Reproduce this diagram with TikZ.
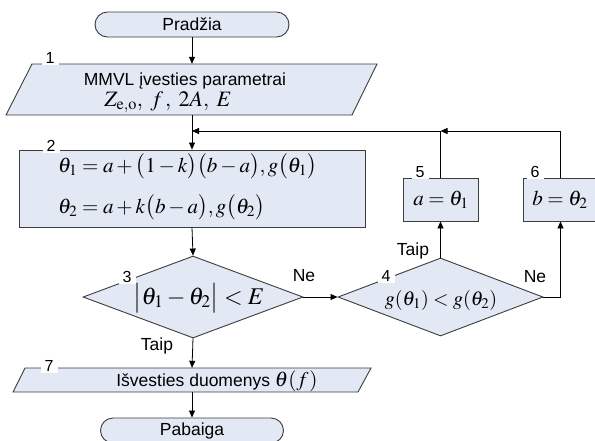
\documentclass[tikz,border=0pt]{standalone}
\usepackage{amsmath}
\usepackage{mathptmx}
\usepackage[no-math]{fontspec}
\setmainfont{Liberation Sans}
\usetikzlibrary{shapes.geometric,shapes.misc,arrows.meta}
\definecolor{boxfill}{RGB}{227,233,244}
\definecolor{edgecol}{RGB}{60,60,60}
\tikzset{
 shapebox/.style={draw=edgecol, fill=boxfill, line width=0.9pt},
 term/.style={shapebox, rounded rectangle, minimum height=25pt, inner sep=0pt, font=\fontsize{17.5}{20}\selectfont},
 procbox/.style={shapebox, rectangle, inner sep=0pt},
 decis/.style={shapebox, diamond, inner sep=0pt},
 ghost/.style={draw=none, fill=none, inner sep=0pt},
 num/.style={fill=white, inner sep=0pt, minimum width=17pt, minimum height=14pt, font=\fontsize{16}{18}\selectfont},
 lbl/.style={inner sep=0pt, font=\fontsize{17.5}{20}\selectfont},
 mth/.style={inner sep=0pt, font=\fontsize{21}{25}\selectfont},
 conn/.style={draw=black, line width=0.8pt, -{Triangle[length=7pt,width=6pt]}},
 plainline/.style={draw=black, line width=0.8pt}
}
\begin{document}
\begin{tikzpicture}[x=1pt,y=-1pt]
\clip (0,0) rectangle (595,440);
\fill[white] (0,0) rectangle (595,440);

% terminals
\node[term, minimum width=194pt] (start) at (192,24.5) {Pradžia};
\node[term, minimum width=183pt] (end) at (192,430.5) {Pabaiga};

% parallelogram 1
\draw[shapebox] (32,64) -- (377,64) -- (352,115) -- (6,115) -- cycle;
\node[ghost, minimum width=300pt, minimum height=51pt] (p1) at (192,89.5) {};
\node[lbl, anchor=base] (p1a) at (185,85) {MMVL įvesties parametrai};
\node[mth, anchor=base, font=\fontsize{22}{26}\selectfont] (p1b) at (168,106) {$Z_{\mathrm{e,o}},\hspace{5pt} f\hspace{2pt},\hspace{5pt} 2A,\hspace{5pt} E$};

% process 2
\node[procbox, minimum width=346pt, minimum height=77pt] (b2) at (192,188.5) {};
\node[mth, anchor=base west] (b2a) at (58,172) {$\theta_1 = a + \bigl(1-k\bigr)\bigl(b-a\bigr), g\bigl(\theta_1\bigr)$};
\node[mth, anchor=base west] (b2b) at (58,213) {$\theta_2 = a + k\bigl(b-a\bigr), g\bigl(\theta_2\bigr)$};

% decision 3
\node[decis, aspect=2.68, minimum width=220pt, minimum height=82pt] (d3) at (193,297) {};
\node[mth, anchor=base, font=\fontsize{24}{28}\selectfont] (d3t) at (199,304) {$\bigl|\theta_1-\theta_2\bigr|<E$};

% decision 4
\node[decis, aspect=2.63, minimum width=205pt, minimum height=78pt] (d4) at (440.5,297) {};
\node[mth, anchor=base, font=\fontsize{20}{24}\selectfont] (d4t) at (441,305) {$g(\theta_1)<g(\theta_2)$};

% boxes 5 and 6
\node[procbox, minimum width=75pt, minimum height=43pt] (b5) at (440.5,199.5) {};
\node[mth, anchor=base] (b5t) at (441,205) {$a=\theta_1$};
\node[procbox, minimum width=75pt, minimum height=43pt] (b6) at (560.5,199.5) {};
\node[mth, anchor=base] (b6t) at (560,205) {$b=\theta_2$};

% parallelogram 7
\draw[shapebox] (25,368) -- (371,368) -- (358,392) -- (13,392) -- cycle;
\node[ghost, minimum width=300pt, minimum height=24pt] (p7) at (192,380) {};
\node[lbl, anchor=base] (p7t) at (217,386) {Išvesties duomenys {\fontsize{21}{24}\selectfont$\theta(f\hspace{1pt})$}};

% number labels
\node[num] (n1) at (50,58) {1};
\node[num] (n2) at (51,146) {2};
\node[num] (n3) at (127,277) {3};
\node[num] (n4) at (386,276) {4};
\node[num] (n5) at (420,172) {5};
\node[num] (n6) at (535,172) {6};
\node[num] (n7) at (49,366) {7};

% connectors
\coordinate (j5) at (440.5,131);
\coordinate (fb) at (192,131);
\draw[conn] (start.south) -- (p1.north);
\draw[conn] (p1.south) -- (b2.north);
\draw[plainline] (b5.north) -- (j5);
\draw[conn] (b6.north) |- (j5);
\draw[conn] (j5) -- (fb);
\draw[conn] (b2.south) -- (d3.north);
\draw[conn] (d3.east) -- (d4.west);
\draw[conn] (d4.north) -- (b5.south);
\draw[conn] (d4.east) -| (b6.south);
\draw[conn] (d3.south) -- (p7.north);
\draw[conn] (p7.south) -- (end.north);

% branch labels
\node[lbl] (ne1) at (304,276) {Ne};
\node[lbl] (ne2) at (535,277) {Ne};
\node[lbl] (taip1) at (413,251) {Taip};
\node[lbl] (taip2) at (157,346) {Taip};
\end{tikzpicture}
\end{document}
